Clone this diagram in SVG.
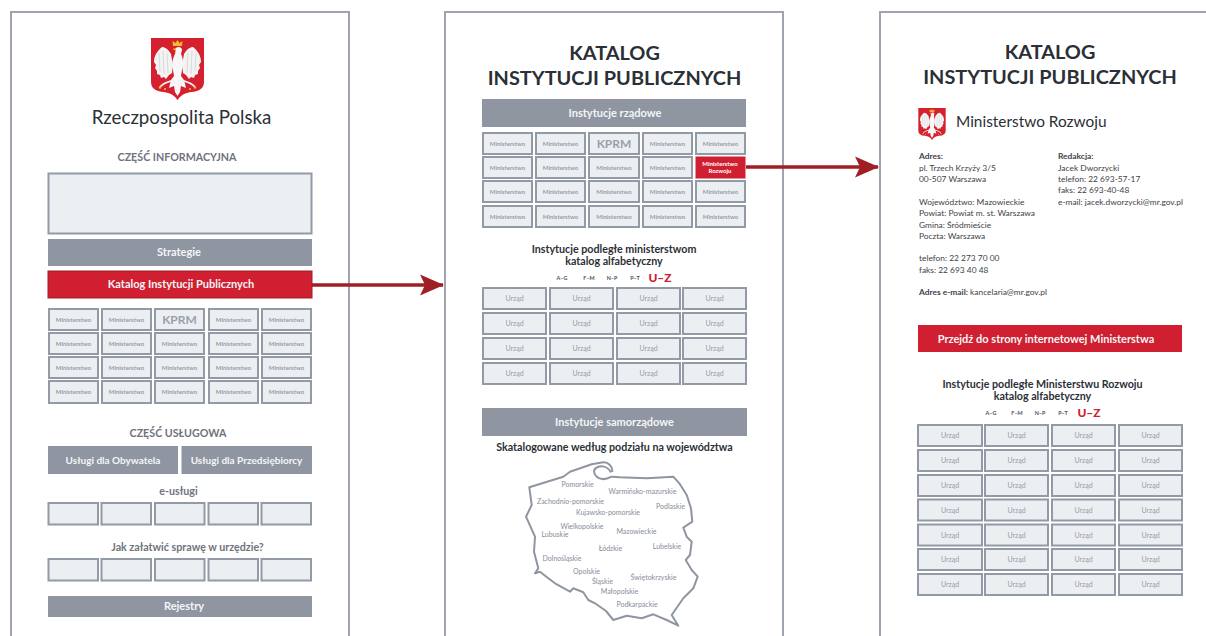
<svg xmlns="http://www.w3.org/2000/svg" xmlns:xlink="http://www.w3.org/1999/xlink" width="1206" height="636" viewBox="0 0 1206 636">
<style>
text{font-family:Lato,"Noto Sans","Liberation Sans",sans-serif;text-anchor:middle}
.fr{fill:none;stroke:#9ea4b2;stroke-width:2}
.c{fill:#eceff2;stroke:#929aa6;stroke-width:2}
.g{fill:#8f95a1}
.r{fill:#cf1f30}
.m{font-size:6px;font-weight:700;fill:#979ca8}
.u{font-size:7px;fill:#979ca8}
.k{font-size:12px;font-weight:700;fill:#9a9fab}
.w{font-weight:700;fill:#f4f5f7;font-size:11px}
.w2{font-weight:700;fill:#f4f5f7;font-size:10px}
.h{font-weight:700;fill:#6f737c;font-size:10.700px}
.ti{font-weight:700;fill:#2b2f36;font-size:19.900px}
.s{font-weight:700;fill:#2b2f36;font-size:10.700px}
.az{font-size:5.400px;font-weight:700;fill:#4a4d55}
.uz{font-size:12px;font-weight:900;fill:#cf1f30}
.pl{font-size:7px;fill:#868c99}
.a{font-size:8.400px;fill:#3e4148;text-anchor:start}
.ab{font-weight:700}
</style>
<defs>
<symbol id="herb" viewBox="0 0 53 62">
<path d="M0,0H53V44Q53,53 40,54Q31,55 26.500,62Q22,55 13,54Q0,53 0,44Z" fill="#d5202f"/>
<path d="M20,16C17,11 14,9 11,9C6,13 3,18 3,24L5,27L4,30L6,33L6,36L9,37L10,40L13,39L15,41L18,37L21,35L22,27ZM33,16C36,11 39,9 42,9C47,13 50,18 50,24L48,27L49,30L47,33L47,36L44,37L43,40L40,39L38,41L35,37L32,35L31,27Z" fill="#f3f3f3"/>
<path d="M25,10C27,8 31,9 31,12L30,16C32,20 33,26 31,32L30,38L33,42L35,50L30,48L29,54L26.500,58L24,54L23,48L18,50L20,42L23,38L22,32C20,26 22,20 24,16Z" fill="#f7f7f7"/>
<path d="M23,42C18,44 13,44 9,49M30,42C35,44 40,44 44,49" fill="none" stroke="#f3f3f3" stroke-width="1.800"/>
<path d="M8,15L9,33M12,13L13,36M16,15L17,35M45,15L44,33M41,13L40,36M37,15L36,35" stroke="#cfcfd3" stroke-width=".7" fill="none"/>
<path d="M22,8L21.500,3L24.500,5L26.500,2L28.500,5L31.500,3L31,8Z" fill="#f2b82e"/>
<path d="M25,10L21.500,11L25,13Z" fill="#f2b82e"/>
<circle cx="9" cy="49.500" r="1.200" fill="#f2b82e"/><circle cx="44" cy="49.500" r="1.200" fill="#f2b82e"/><circle cx="14" cy="51" r="1" fill="#f2b82e"/><circle cx="39" cy="51" r="1" fill="#f2b82e"/>
</symbol>
<marker id="arr" markerUnits="userSpaceOnUse" markerWidth="24" markerHeight="22" refX="23" refY="11" orient="auto"><path d="M0,0.500L24,11L0,21.500L5,11Z" fill="#a01f24"/></marker>
</defs>
<rect width="1206" height="636" fill="#fff"/>
<g id="frames">
<path class="fr" d="M11,636V12H349V636"/>
<path class="fr" d="M445,636V12H783V636"/>
<path class="fr" d="M1206,12H880V636"/>
</g>
<g id="connectors">
<path d="M312,285H443" stroke="#a01f24" stroke-width="3.600" fill="none" marker-end="url(#arr)"/>
<path d="M746,167H878" stroke="#a01f24" stroke-width="3.600" fill="none" marker-end="url(#arr)"/>
</g>
<g id="panel1">
<use id="herb1" href="#herb" xlink:href="#herb" x="151" y="38" width="53" height="62"/>
<text x="181.500" y="124" style="font-size:18.700px;fill:#2b2f36">Rzeczpospolita Polska</text>
<text class="h" x="177" y="161">CZĘŚĆ INFORMACYJNA</text>
<g id="info"><rect class="c" x="48.500" y="173.500" width="263" height="60"/></g>
<g id="strategie"><rect class="g" x="48" y="239" width="264" height="27"/><text class="w" x="179" y="256">Strategie</text></g>
<g id="katalog"><rect class="r" x="48" y="271" width="264" height="27" stroke="#a01f24" stroke-width="1"/><text class="w" x="181" y="288">Katalog Instytucji Publicznych</text></g>
<g id="p1m01"><rect class="c" x="49" y="309" width="49" height="21"/><text class="m" x="73.500" y="322">Ministerstwo</text></g>
<g id="p1m02"><rect class="c" x="102" y="309" width="49" height="21"/><text class="m" x="126.500" y="322">Ministerstwo</text></g>
<g id="p1m03"><rect class="c" x="155" y="309" width="49" height="21"/><text class="k" x="179.500" y="324">KPRM</text></g>
<g id="p1m04"><rect class="c" x="209" y="309" width="49" height="21"/><text class="m" x="233.500" y="322">Ministerstwo</text></g>
<g id="p1m05"><rect class="c" x="262" y="309" width="49" height="21"/><text class="m" x="286.500" y="322">Ministerstwo</text></g>
<g id="p1m06"><rect class="c" x="49" y="333" width="49" height="21"/><text class="m" x="73.500" y="346">Ministerstwo</text></g>
<g id="p1m07"><rect class="c" x="102" y="333" width="49" height="21"/><text class="m" x="126.500" y="346">Ministerstwo</text></g>
<g id="p1m08"><rect class="c" x="155" y="333" width="49" height="21"/><text class="m" x="179.500" y="346">Ministerstwo</text></g>
<g id="p1m09"><rect class="c" x="209" y="333" width="49" height="21"/><text class="m" x="233.500" y="346">Ministerstwo</text></g>
<g id="p1m10"><rect class="c" x="262" y="333" width="49" height="21"/><text class="m" x="286.500" y="346">Ministerstwo</text></g>
<g id="p1m11"><rect class="c" x="49" y="357" width="49" height="21"/><text class="m" x="73.500" y="370">Ministerstwo</text></g>
<g id="p1m12"><rect class="c" x="102" y="357" width="49" height="21"/><text class="m" x="126.500" y="370">Ministerstwo</text></g>
<g id="p1m13"><rect class="c" x="155" y="357" width="49" height="21"/><text class="m" x="179.500" y="370">Ministerstwo</text></g>
<g id="p1m14"><rect class="c" x="209" y="357" width="49" height="21"/><text class="m" x="233.500" y="370">Ministerstwo</text></g>
<g id="p1m15"><rect class="c" x="262" y="357" width="49" height="21"/><text class="m" x="286.500" y="370">Ministerstwo</text></g>
<g id="p1m16"><rect class="c" x="49" y="381" width="49" height="22"/><text class="m" x="73.500" y="394">Ministerstwo</text></g>
<g id="p1m17"><rect class="c" x="102" y="381" width="49" height="22"/><text class="m" x="126.500" y="394">Ministerstwo</text></g>
<g id="p1m18"><rect class="c" x="155" y="381" width="49" height="22"/><text class="m" x="179.500" y="394">Ministerstwo</text></g>
<g id="p1m19"><rect class="c" x="209" y="381" width="49" height="22"/><text class="m" x="233.500" y="394">Ministerstwo</text></g>
<g id="p1m20"><rect class="c" x="262" y="381" width="49" height="22"/><text class="m" x="286.500" y="394">Ministerstwo</text></g>
<text class="h" x="178" y="437">CZĘŚĆ USŁUGOWA</text>
<g id="obywatel"><rect class="g" x="48" y="446" width="130" height="28"/><text class="w2" x="113" y="464">Usługi dla Obywatela</text></g>
<g id="przedsiebiorca"><rect class="g" x="181.500" y="446" width="130.500" height="28"/><text class="w2" x="246.500" y="464">Usługi dla Przedsiębiorcy</text></g>
<text class="h" x="178.500" y="495">e-usługi</text>
<g id="e1"><rect class="c" x="48.500" y="503" width="49.500" height="21.500"/></g>
<g id="e2"><rect class="c" x="101.500" y="503" width="49.500" height="21.500"/></g>
<g id="e3"><rect class="c" x="155" y="503" width="49.500" height="21.500"/></g>
<g id="e4"><rect class="c" x="208.500" y="503" width="49.500" height="21.500"/></g>
<g id="e5"><rect class="c" x="261.500" y="503" width="49.500" height="21.500"/></g>
<text class="h" x="187.500" y="551">Jak załatwić sprawę w urzędzie?</text>
<g id="j1"><rect class="c" x="48.500" y="559" width="49.500" height="21.500"/></g>
<g id="j2"><rect class="c" x="101.500" y="559" width="49.500" height="21.500"/></g>
<g id="j3"><rect class="c" x="155" y="559" width="49.500" height="21.500"/></g>
<g id="j4"><rect class="c" x="208.500" y="559" width="49.500" height="21.500"/></g>
<g id="j5"><rect class="c" x="261.500" y="559" width="49.500" height="21.500"/></g>
<g id="rejestry"><rect class="g" x="48" y="596" width="264" height="21"/><text class="w" x="184" y="610">Rejestry</text></g>
</g>
<g id="panel2">
<text class="ti" x="614.500" y="60">KATALOG</text>
<text class="ti" x="614.500" y="85">INSTYTUCJI PUBLICZNYCH</text>
<g id="rzadowe"><rect class="g" x="482" y="99" width="264" height="28"/><text class="w" x="615" y="117">Instytucje rządowe</text></g>
<g id="p2m01"><rect class="c" x="483" y="133" width="49" height="21"/><text class="m" x="507.500" y="146">Ministerstwo</text></g>
<g id="p2m02"><rect class="c" x="536" y="133" width="49" height="21"/><text class="m" x="560.500" y="146">Ministerstwo</text></g>
<g id="p2m03"><rect class="c" x="589" y="133" width="50" height="21"/><text class="k" x="614" y="148">KPRM</text></g>
<g id="p2m04"><rect class="c" x="643" y="133" width="49" height="21"/><text class="m" x="667.500" y="146">Ministerstwo</text></g>
<g id="p2m05"><rect class="c" x="696" y="133" width="49" height="21"/><text class="m" x="720.500" y="146">Ministerstwo</text></g>
<g id="p2m06"><rect class="c" x="483" y="157" width="49" height="21"/><text class="m" x="507.500" y="170">Ministerstwo</text></g>
<g id="p2m07"><rect class="c" x="536" y="157" width="49" height="21"/><text class="m" x="560.500" y="170">Ministerstwo</text></g>
<g id="p2m08"><rect class="c" x="589" y="157" width="50" height="21"/><text class="m" x="614" y="170">Ministerstwo</text></g>
<g id="p2m09"><rect class="c" x="643" y="157" width="49" height="21"/><text class="m" x="667.500" y="170">Ministerstwo</text></g>
<g id="p2rozwoj"><rect class="r" x="695.500" y="156.500" width="50" height="22"/><text class="m" x="720" y="166" style="fill:#fff;font-size:6px">Ministerstwo</text><text class="m" x="720" y="173" style="fill:#fff;font-size:6px">Rozwoju</text></g>
<g id="p2m11"><rect class="c" x="483" y="181" width="49" height="21"/><text class="m" x="507.500" y="194">Ministerstwo</text></g>
<g id="p2m12"><rect class="c" x="536" y="181" width="49" height="21"/><text class="m" x="560.500" y="194">Ministerstwo</text></g>
<g id="p2m13"><rect class="c" x="589" y="181" width="50" height="21"/><text class="m" x="614" y="194">Ministerstwo</text></g>
<g id="p2m14"><rect class="c" x="643" y="181" width="49" height="21"/><text class="m" x="667.500" y="194">Ministerstwo</text></g>
<g id="p2m15"><rect class="c" x="696" y="181" width="49" height="21"/><text class="m" x="720.500" y="194">Ministerstwo</text></g>
<g id="p2m16"><rect class="c" x="483" y="206" width="49" height="21"/><text class="m" x="507.500" y="219">Ministerstwo</text></g>
<g id="p2m17"><rect class="c" x="536" y="206" width="49" height="21"/><text class="m" x="560.500" y="219">Ministerstwo</text></g>
<g id="p2m18"><rect class="c" x="589" y="206" width="50" height="21"/><text class="m" x="614" y="219">Ministerstwo</text></g>
<g id="p2m19"><rect class="c" x="643" y="206" width="49" height="21"/><text class="m" x="667.500" y="219">Ministerstwo</text></g>
<g id="p2m20"><rect class="c" x="696" y="206" width="49" height="21"/><text class="m" x="720.500" y="219">Ministerstwo</text></g>
<text class="s" x="614" y="253">Instytucje podległe ministerstwom</text>
<text class="s" x="614" y="265">katalog alfabetyczny</text>
<text class="az" x="562" y="280">A–G</text><text class="az" x="589" y="280">F–M</text><text class="az" x="612" y="280">N–P</text><text class="az" x="635" y="280">P–T</text><text class="uz" x="660" y="282">U–Z</text>
<g id="p2u01"><rect class="c" x="483" y="288" width="63" height="21"/><text class="u" x="514.500" y="301">Urząd</text></g>
<g id="p2u02"><rect class="c" x="550" y="288" width="63" height="21"/><text class="u" x="581.500" y="301">Urząd</text></g>
<g id="p2u03"><rect class="c" x="617" y="288" width="63" height="21"/><text class="u" x="648.500" y="301">Urząd</text></g>
<g id="p2u04"><rect class="c" x="683" y="288" width="63" height="21"/><text class="u" x="714.500" y="301">Urząd</text></g>
<g id="p2u05"><rect class="c" x="483" y="313" width="63" height="21"/><text class="u" x="514.500" y="326">Urząd</text></g>
<g id="p2u06"><rect class="c" x="550" y="313" width="63" height="21"/><text class="u" x="581.500" y="326">Urząd</text></g>
<g id="p2u07"><rect class="c" x="617" y="313" width="63" height="21"/><text class="u" x="648.500" y="326">Urząd</text></g>
<g id="p2u08"><rect class="c" x="683" y="313" width="63" height="21"/><text class="u" x="714.500" y="326">Urząd</text></g>
<g id="p2u09"><rect class="c" x="483" y="338" width="63" height="21"/><text class="u" x="514.500" y="351">Urząd</text></g>
<g id="p2u10"><rect class="c" x="550" y="338" width="63" height="21"/><text class="u" x="581.500" y="351">Urząd</text></g>
<g id="p2u11"><rect class="c" x="617" y="338" width="63" height="21"/><text class="u" x="648.500" y="351">Urząd</text></g>
<g id="p2u12"><rect class="c" x="683" y="338" width="63" height="21"/><text class="u" x="714.500" y="351">Urząd</text></g>
<g id="p2u13"><rect class="c" x="483" y="363" width="63" height="21"/><text class="u" x="514.500" y="376">Urząd</text></g>
<g id="p2u14"><rect class="c" x="550" y="363" width="63" height="21"/><text class="u" x="581.500" y="376">Urząd</text></g>
<g id="p2u15"><rect class="c" x="617" y="363" width="63" height="21"/><text class="u" x="648.500" y="376">Urząd</text></g>
<g id="p2u16"><rect class="c" x="683" y="363" width="63" height="21"/><text class="u" x="714.500" y="376">Urząd</text></g>
<g id="samorzadowe"><rect class="g" x="482" y="408" width="265" height="28"/><text class="w" x="614.500" y="426">Instytucje samorządowe</text></g>
<text class="s" x="614.500" y="451">Skatalogowane według podziału na województwa</text>
<g id="mapa">
<path fill="none" stroke="#8f95a1" stroke-width="2" stroke-linejoin="round" stroke-linecap="round" d="M612.300,471C612.500,466 608,462 603.300,462.300L591.700,464.300L570,471.700L563.300,476.700L529.300,487.300L531.700,505L526,516.700L535,536.700L534,551.700L538.300,568.300L535,573.300L540,571.700L548.300,578.300L555,583.300L570,591.700L573.300,588.300L583.300,592.300L588.300,600L595,603.300L606,611L613.300,620L626.700,615.700L641.700,618.300L653.300,614.300L666.700,620L678.300,625.700L671.700,615L683.300,598.300L693.300,588.300L697.700,576.700L691.700,570L685.700,560L690,555L691.700,541.700L686.700,536.700L683.300,527.700L692.300,521.700L691,508.300L686.700,495L679.300,483.300L673.300,476.700L646.700,478.300L620,477.300L611.700,476.700C606,479.500 600,480 596.500,476.500C593,473 593,468.500 598.300,466.700C603,465.500 608,467.500 610.700,471.700"/>
<text class="pl" x="577.500" y="487">Pomorskie</text>
<text class="pl" x="642.500" y="494">Warmińsko-mazurskie</text>
<text class="pl" x="570.500" y="504">Zachodnio-pomorskie</text>
<text class="pl" x="670.500" y="509">Podlaskie</text>
<text class="pl" x="608" y="515">Kujawsko-pomorskie</text>
<text class="pl" x="582" y="529">Wielkopolskie</text>
<text class="pl" x="555" y="537">Lubuskie</text>
<text class="pl" x="636.500" y="534">Mazowieckie</text>
<text class="pl" x="610.500" y="551">Łódzkie</text>
<text class="pl" x="667" y="549">Lubelskie</text>
<text class="pl" x="562" y="561">Dolnośląskie</text>
<text class="pl" x="586.500" y="574">Opolskie</text>
<text class="pl" x="602.500" y="584">Śląskie</text>
<text class="pl" x="653.500" y="580">Świętokrzyskie</text>
<text class="pl" x="619.500" y="594">Małopolskie</text>
<text class="pl" x="637" y="607">Podkarpackie</text>
</g>
</g>
<g id="panel3">
<text class="ti" x="1050" y="59">KATALOG</text>
<text class="ti" x="1050" y="84">INSTYTUCJI PUBLICZNYCH</text>
<use id="herb2" href="#herb" xlink:href="#herb" x="918" y="108" width="28" height="32"/>
<text x="956" y="127" style="font-size:15.400px;fill:#2b2f36;text-anchor:start">Ministerstwo Rozwoju</text>
<g id="adres">
<text class="a ab" x="919" y="159">Adres:</text>
<text class="a" x="919" y="170.500">pl. Trzech Krzyży 3/5</text>
<text class="a" x="919" y="182">00-507 Warszawa</text>
<text class="a" x="919" y="205">Województwo: Mazowieckie</text>
<text class="a" x="919" y="216">Powiat: Powiat m. st. Warszawa</text>
<text class="a" x="919" y="227.500">Gmina: Śródmieście</text>
<text class="a" x="919" y="239">Poczta: Warszawa</text>
<text class="a" x="919" y="261">telefon: 22 273 70 00</text>
<text class="a" x="919" y="272.500">faks: 22 693 40 48</text>
<text class="a" x="919" y="295"><tspan class="ab">Adres e-mail:</tspan> kancelaria@mr.gov.pl</text>
</g>
<g id="redakcja">
<text class="a ab" x="1058" y="159">Redakcja:</text>
<text class="a" x="1058" y="170.500">Jacek Dworzycki</text>
<text class="a" x="1058" y="182">telefon: 22 693-57-17</text>
<text class="a" x="1058" y="193">faks: 22 693-40-48</text>
<text class="a" x="1058" y="205">e-mail: jacek.dworzycki@mr.gov.pl</text>
</g>
<g id="przejdz"><rect class="r" x="918" y="325" width="264" height="27"/><text class="w" x="1046" y="343">Przejdź do strony internetowej Ministerstwa</text></g>
<text class="s" x="1042.500" y="388">Instytucje podległe Ministerstwu Rozwoju</text>
<text class="s" x="1042.500" y="400">katalog alfabetyczny</text>
<text class="az" x="991" y="415">A–G</text><text class="az" x="1017" y="415">F–M</text><text class="az" x="1040" y="415">N–P</text><text class="az" x="1063" y="415">P–T</text><text class="uz" x="1089" y="417">U–Z</text>
<g id="p3u01"><rect class="c" x="918" y="425" width="64" height="21"/><text class="u" x="950" y="438">Urząd</text></g>
<g id="p3u02"><rect class="c" x="985" y="425" width="63" height="21"/><text class="u" x="1016.500" y="438">Urząd</text></g>
<g id="p3u03"><rect class="c" x="1052" y="425" width="63" height="21"/><text class="u" x="1083.500" y="438">Urząd</text></g>
<g id="p3u04"><rect class="c" x="1119" y="425" width="63" height="21"/><text class="u" x="1150.500" y="438">Urząd</text></g>
<g id="p3u05"><rect class="c" x="918" y="450" width="64" height="21"/><text class="u" x="950" y="463">Urząd</text></g>
<g id="p3u06"><rect class="c" x="985" y="450" width="63" height="21"/><text class="u" x="1016.500" y="463">Urząd</text></g>
<g id="p3u07"><rect class="c" x="1052" y="450" width="63" height="21"/><text class="u" x="1083.500" y="463">Urząd</text></g>
<g id="p3u08"><rect class="c" x="1119" y="450" width="63" height="21"/><text class="u" x="1150.500" y="463">Urząd</text></g>
<g id="p3u09"><rect class="c" x="918" y="475" width="64" height="21"/><text class="u" x="950" y="488">Urząd</text></g>
<g id="p3u10"><rect class="c" x="985" y="475" width="63" height="21"/><text class="u" x="1016.500" y="488">Urząd</text></g>
<g id="p3u11"><rect class="c" x="1052" y="475" width="63" height="21"/><text class="u" x="1083.500" y="488">Urząd</text></g>
<g id="p3u12"><rect class="c" x="1119" y="475" width="63" height="21"/><text class="u" x="1150.500" y="488">Urząd</text></g>
<g id="p3u13"><rect class="c" x="918" y="499.500" width="64" height="21"/><text class="u" x="950" y="512.500">Urząd</text></g>
<g id="p3u14"><rect class="c" x="985" y="499.500" width="63" height="21"/><text class="u" x="1016.500" y="512.500">Urząd</text></g>
<g id="p3u15"><rect class="c" x="1052" y="499.500" width="63" height="21"/><text class="u" x="1083.500" y="512.500">Urząd</text></g>
<g id="p3u16"><rect class="c" x="1119" y="499.500" width="63" height="21"/><text class="u" x="1150.500" y="512.500">Urząd</text></g>
<g id="p3u17"><rect class="c" x="918" y="524.500" width="64" height="21"/><text class="u" x="950" y="537.500">Urząd</text></g>
<g id="p3u18"><rect class="c" x="985" y="524.500" width="63" height="21"/><text class="u" x="1016.500" y="537.500">Urząd</text></g>
<g id="p3u19"><rect class="c" x="1052" y="524.500" width="63" height="21"/><text class="u" x="1083.500" y="537.500">Urząd</text></g>
<g id="p3u20"><rect class="c" x="1119" y="524.500" width="63" height="21"/><text class="u" x="1150.500" y="537.500">Urząd</text></g>
<g id="p3u21"><rect class="c" x="918" y="549" width="64" height="21"/><text class="u" x="950" y="562">Urząd</text></g>
<g id="p3u22"><rect class="c" x="985" y="549" width="63" height="21"/><text class="u" x="1016.500" y="562">Urząd</text></g>
<g id="p3u23"><rect class="c" x="1052" y="549" width="63" height="21"/><text class="u" x="1083.500" y="562">Urząd</text></g>
<g id="p3u24"><rect class="c" x="1119" y="549" width="63" height="21"/><text class="u" x="1150.500" y="562">Urząd</text></g>
<g id="p3u25"><rect class="c" x="918" y="574" width="64" height="21"/><text class="u" x="950" y="587">Urząd</text></g>
<g id="p3u26"><rect class="c" x="985" y="574" width="63" height="21"/><text class="u" x="1016.500" y="587">Urząd</text></g>
<g id="p3u27"><rect class="c" x="1052" y="574" width="63" height="21"/><text class="u" x="1083.500" y="587">Urząd</text></g>
<g id="p3u28"><rect class="c" x="1119" y="574" width="63" height="21"/><text class="u" x="1150.500" y="587">Urząd</text></g>
</g>
</svg>
